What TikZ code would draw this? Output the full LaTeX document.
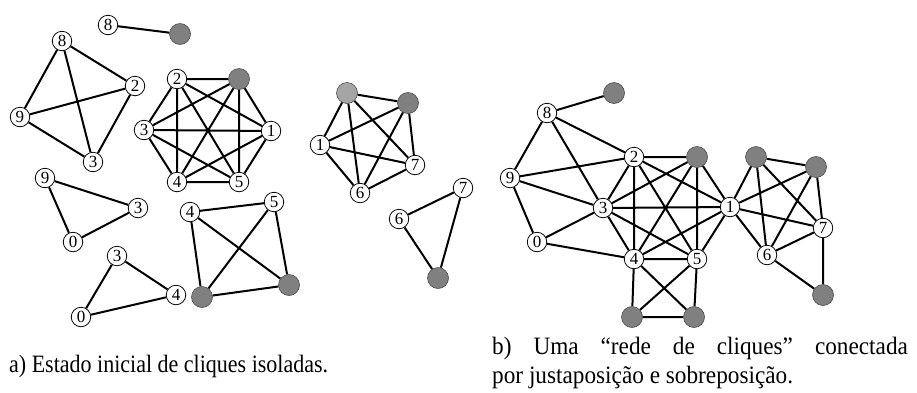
\documentclass[tikz,border=0pt]{standalone}
\usepackage{fontspec}
\setmainfont{Liberation Serif}
\definecolor{gdark}{RGB}{128,128,128}
\definecolor{glight}{RGB}{165,165,165}
\tikzset{
  wn/.style={circle,draw=black,line width=0.8pt,fill=white,minimum size=19.5pt,inner sep=0pt,font=\fontsize{17}{17}\selectfont},
  gn/.style={circle,draw=black!70,line width=0.6pt,fill=gdark,minimum size=21pt,inner sep=0pt},
  lgn/.style={gn,fill=glight},
  ed/.style={line width=2pt,black},
  captxt/.style={inner sep=0pt,font=\fontsize{25}{27}\selectfont}
}
\begin{document}
\begin{tikzpicture}[x=1pt,y=-1pt]
\useasboundingbox (0,0) rectangle (917,392);
% ---------- left: isolated cliques ----------
\node[wn] (a8) at (108,25) {8};
\node[gn] (ag) at (180,34) {};
\draw[ed] (a8) -- (ag);
% K4
\node[wn] (b8) at (62,41) {8};
\node[wn] (b2) at (135,86) {2};
\node[wn] (b9) at (20,117) {9};
\node[wn] (b3) at (93,162) {3};
\draw[ed] (b8)--(b2) (b8)--(b9) (b8)--(b3) (b9)--(b2) (b9)--(b3) (b2)--(b3);
% K6
\node[wn] (c2) at (177,79) {2};
\node[gn] (cg) at (239,79) {};
\node[wn] (c3) at (144,130) {3};
\node[wn] (c1) at (271,131) {1};
\node[wn] (c4) at (177,182) {4};
\node[wn] (c5) at (239,182) {5};
\draw[ed] (c2)--(cg) (c2)--(c3) (c2)--(c4) (c2)--(c5) (c2)--(c1)
          (cg)--(c3) (cg)--(c4) (cg)--(c5) (cg)--(c1)
          (c3)--(c1) (c3)--(c4) (c3)--(c5)
          (c4)--(c5) (c4)--(c1) (c5)--(c1);
% triangle 9-3-0
\node[wn] (d9) at (45,178) {9};
\node[wn] (d3) at (138,208) {3};
\node[wn] (d0) at (73,242) {0};
\draw[ed] (d9)--(d3) (d3)--(d0) (d0)--(d9);
% triangle 3-4-0
\node[wn] (e3) at (117,256) {3};
\node[wn] (e4) at (176,295) {4};
\node[wn] (e0) at (81,317) {0};
\draw[ed] (e3)--(e4) (e4)--(e0) (e0)--(e3);
% K4 4-5-g-g
\node[wn] (f4) at (190,212) {4};
\node[wn] (f5) at (274,202) {5};
\node[gn] (fg1) at (202,297) {};
\node[gn] (fg2) at (289,285) {};
\draw[ed] (f4)--(f5) (f4)--(fg1) (f4)--(fg2) (f5)--(fg1) (f5)--(fg2) (fg1)--(fg2);
% K5
\node[lgn] (gL) at (347,93) {};
\node[gn] (gD) at (408,103) {};
\node[wn] (g1) at (320,145) {1};
\node[wn] (g7) at (415,165) {7};
\node[wn] (g6) at (360,193) {6};
\draw[ed] (gL)--(gD) (gL)--(g1) (gL)--(g7) (gL)--(g6)
          (gD)--(g1) (gD)--(g7) (gD)--(g6)
          (g1)--(g7) (g1)--(g6) (g6)--(g7);
% triangle 6-7-g
\node[wn] (h7) at (463,188) {7};
\node[wn] (h6) at (399,219) {6};
\node[gn] (hg) at (438,278) {};
\draw[ed] (h7)--(h6) (h6)--(hg) (hg)--(h7);
% ---------- right: connected network ----------
\node[gn] (r8g) at (614,93) {};
\node[wn] (r8) at (547,113) {8};
\node[wn] (r2) at (634,157) {2};
\node[gn] (rg2) at (697,157) {};
\node[wn] (r9) at (510,178) {9};
\node[wn] (r3) at (603,208) {3};
\node[wn] (r0) at (537,242) {0};
\node[wn] (r4) at (634,259) {4};
\node[wn] (r5) at (697,259) {5};
\node[gn] (rgBL) at (632,317) {};
\node[gn] (rgBR) at (694,317) {};
\node[wn] (r1) at (730,207) {1};
\node[gn] (rgA) at (756,157) {};
\node[gn] (rgB) at (816,167) {};
\node[wn] (r7) at (823,228) {7};
\node[wn] (r6) at (767,255) {6};
\node[gn] (rgC) at (823,295) {};
\draw[ed] (r8)--(r8g) (r8)--(r9) (r8)--(r2) (r8)--(r3)
          (r9)--(r2) (r9)--(r3) (r9)--(r0)
          (r0)--(r3) (r0)--(r4);
\draw[ed] (r2)--(rg2) (r2)--(r3) (r2)--(r4) (r2)--(r5) (r2)--(r1)
          (rg2)--(r3) (rg2)--(r4) (rg2)--(r5) (rg2)--(r1)
          (r3)--(r1) (r3)--(r4) (r3)--(r5)
          (r4)--(r5) (r4)--(r1) (r5)--(r1);
\draw[ed] (r4)--(rgBL) (r4)--(rgBR) (r5)--(rgBL) (r5)--(rgBR) (rgBL)--(rgBR);
\draw[ed] (r1)--(rgA) (r1)--(rgB) (r1)--(r7) (r1)--(r6)
          (rgA)--(rgB) (rgA)--(r7) (rgA)--(r6)
          (rgB)--(r7) (rgB)--(r6) (r6)--(r7);
\draw[ed] (r6)--(rgC) (r7)--(rgC);
% ---------- captions ----------
\node[captxt,anchor=base west] (capa) at (9,372) {\scalebox{0.88}[1]{a) Estado inicial de cliques isoladas.}};
\node[captxt,anchor=base west] (capb1) at (492,354) {\scalebox{0.93}[1]{\makebox[447pt][s]{b) Uma “rede de cliques” conectada}}};
\node[captxt,anchor=base west] (capb2) at (492,383) {\scalebox{0.93}[1]{por justaposição e sobreposição.}};
\end{tikzpicture}
\end{document}
